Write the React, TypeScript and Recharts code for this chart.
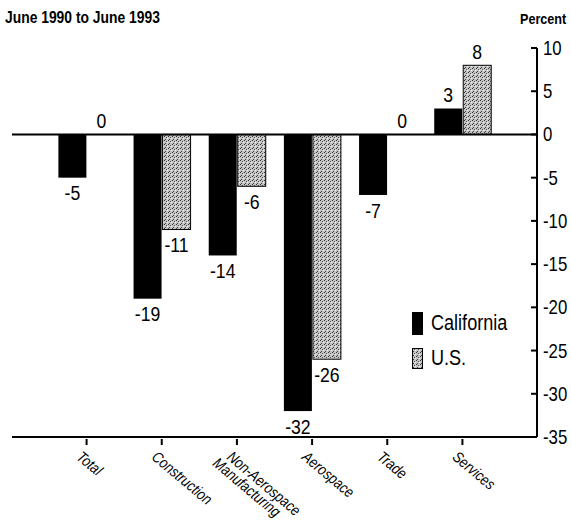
import React from "react";
import { BarChart, Bar, XAxis, YAxis, ReferenceLine } from "recharts";

const categories = [
  "Total",
  "Construction",
  "Non-Aerospace\nManufacturing",
  "Aerospace",
  "Trade",
  "Services",
];
const california = [-5, -19, -14, -32, -7, 3];
const us = [0, -11, -6, -26, 0, 8];
const yTicks = [10, 5, 0, -5, -10, -15, -20, -25, -30, -35];

const data = categories.map((c, i) => ({
  name: c,
  California: california[i],
  US: us[i],
}));

const FONT = '"Liberation Sans", Arial, Helvetica, sans-serif';
const SQUEEZE = 0.84;

// bar + its value label, so zero bars still get their "0"
function LabelledBar(props: any) {
  const { x, y, width, height, value, fill, stroke, strokeWidth } = props;
  const v = Array.isArray(value) ? value[1] : value;
  const top = Math.min(y, y + height);
  const bottom = Math.max(y, y + height);
  const h = bottom - top;
  const cx = x + width / 2;
  const ty = v >= 0 ? top - 14 : bottom + 15;
  return (
    <g>
      {h > 0 && (
        <rect
          x={x}
          y={top}
          width={width}
          height={h}
          fill={fill}
          stroke={stroke}
          strokeWidth={strokeWidth}
        />
      )}
      <text
        transform={`translate(${cx},${ty}) scale(${SQUEEZE},1)`}
        textAnchor="middle"
        dominantBaseline="central"
        fontFamily={FONT}
        fontSize={21}
        fill="#000"
      >
        {v}
      </text>
    </g>
  );
}

function CategoryTick(props: any) {
  const { x, y, payload } = props;
  const lines = String(payload.value).split("\n");
  return (
    <g transform={`translate(${x},${y})`}>
      <line x1={0} y1={-6} x2={0} y2={0} stroke="#000" strokeWidth={2} />
      <text
        transform={`translate(-3,4) rotate(40) scale(${SQUEEZE},1)`}
        fontFamily={FONT}
        fontSize={15.5}
        fontStyle="italic"
        fill="#000"
      >
        {lines.map((l, i) => (
          <tspan key={i} x={i * -8} dy={i === 0 ? "0.8em" : "0.9em"}>
            {l}
          </tspan>
        ))}
      </text>
    </g>
  );
}

function PercentTick(props: any) {
  const { x, y, payload } = props;
  return (
    <g>
      <line x1={x - 6} y1={y} x2={x} y2={y} stroke="#000" strokeWidth={2} />
      <text
        transform={`translate(${x + 6},${y}) scale(${SQUEEZE},1)`}
        dominantBaseline="central"
        fontFamily={FONT}
        fontSize={20}
        fill="#000"
      >
        {payload.value}
      </text>
    </g>
  );
}

const squeezed: React.CSSProperties = {
  display: "inline-block",
  transform: `scaleX(${SQUEEZE})`,
  transformOrigin: "left center",
  whiteSpace: "nowrap",
};

export default function App() {
  return (
    <div
      style={{
        position: "absolute",
        left: 0,
        top: 0,
        width: 571,
        height: 524,
        background: "#fff",
        fontFamily: FONT,
        overflow: "hidden",
      }}
    >
      <div
        style={{
          position: "absolute",
          left: 5,
          top: 8,
          fontSize: 16.5,
          fontWeight: "bold",
        }}
      >
        <span style={squeezed}>June 1990 to June 1993</span>
      </div>
      <div
        style={{
          position: "absolute",
          left: 520,
          top: 10,
          fontSize: 15,
          fontWeight: "bold",
        }}
      >
        <span style={squeezed}>Percent</span>
      </div>
      <BarChart
        width={571}
        height={524}
        data={data}
        margin={{ top: 48, right: 0, bottom: 0, left: 12 }}
        barCategoryGap="12.5%"
        barGap={1}
      >
        <defs>
          <pattern id="dots" width="4" height="4" patternUnits="userSpaceOnUse">
            <rect width="4" height="4" fill="#c4c4c4" />
            <rect x="0" y="0" width="1" height="1" fill="#333" />
            <rect x="2" y="1" width="1" height="1" fill="#555" />
            <rect x="1" y="3" width="1" height="1" fill="#444" />
            <rect x="3" y="2" width="1" height="1" fill="#eee" />
          </pattern>
        </defs>
        <XAxis
          dataKey="name"
          height={87}
          interval={0}
          padding={{ left: 37, right: 37 }}
          axisLine={{ stroke: "#000", strokeWidth: 2 }}
          tickLine={false}
          tick={<CategoryTick />}
        />
        <YAxis
          orientation="right"
          width={34}
          domain={[-35, 10]}
          ticks={yTicks}
          interval={0}
          axisLine={{ stroke: "#000", strokeWidth: 2 }}
          tickLine={false}
          tickSize={0}
          tickMargin={0}
          tick={<PercentTick />}
        />
        <ReferenceLine y={0} stroke="#000" strokeWidth={2} />
        <Bar
          dataKey="California"
          fill="#000"
          isAnimationActive={false}
          shape={<LabelledBar />}
        />
        <Bar
          dataKey="US"
          fill="url(#dots)"
          stroke="#000"
          strokeWidth={1}
          isAnimationActive={false}
          shape={<LabelledBar />}
        />
      </BarChart>
      <div style={{ position: "absolute", left: 412, top: 311 }}>
        <div style={{ display: "flex", alignItems: "center", height: 24 }}>
          <div style={{ width: 11, height: 23, background: "#000" }} />
          <span style={{ marginLeft: 8, fontSize: 21.5 }}>
            <span style={squeezed}>California</span>
          </span>
        </div>
        <div style={{ display: "flex", alignItems: "center", height: 24, marginTop: 11 }}>
          <svg width={11} height={21}>
            <rect x={0.5} y={0.5} width={10} height={20} fill="url(#dots)" stroke="#000" />
          </svg>
          <span style={{ marginLeft: 8, fontSize: 21.5 }}>
            <span style={squeezed}>U.S.</span>
          </span>
        </div>
      </div>
    </div>
  );
}
